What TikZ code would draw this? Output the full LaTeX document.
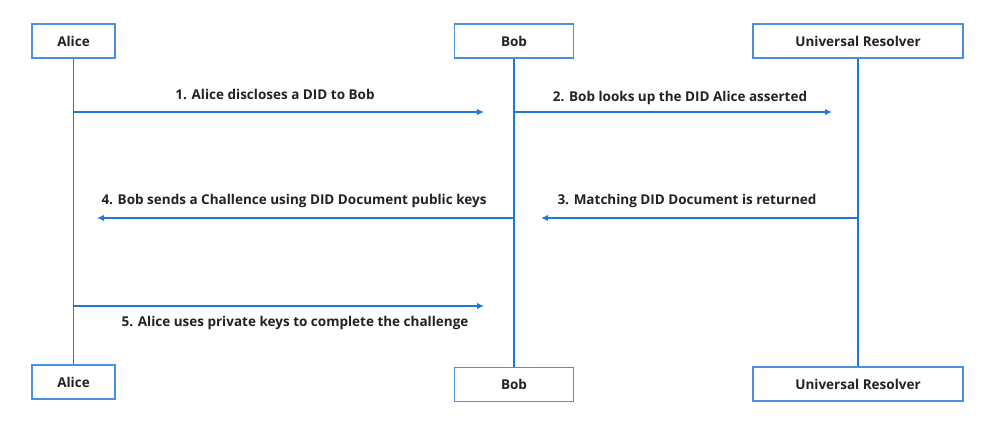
\documentclass[tikz,border=0pt]{standalone}
\usepackage{fontspec}
\setmainfont{Open Sans}
\usetikzlibrary{arrows.meta}
\definecolor{lineblue}{HTML}{1E78D7}
\definecolor{boxblue}{HTML}{4A90E2}
\definecolor{txt}{HTML}{222222}
\begin{document}
\begin{tikzpicture}[x=1pt,y=-1pt,
  actor/.style={draw=boxblue,line width=1.8pt,fill=white,inner sep=0pt,text=txt,font=\fontsize{13.5}{16}\selectfont\bfseries},
  life/.style={draw=lineblue,line width=1.8pt},
  msg/.style={draw=lineblue,line width=1.8pt,-{Latex[length=7pt,width=6.5pt]}},
  lbl/.style={text=txt,font=\fontsize{13.5}{16}\selectfont\bfseries,inner sep=0pt}]
\useasboundingbox (0,0) rectangle (1004,426);
% top boxes
\node[actor,minimum width=83pt,minimum height=34pt] (aT) at (73.5,41) {Alice};
\node[actor,minimum width=119pt,minimum height=34pt] (bT) at (514,41) {Bob};
\node[actor,minimum width=210pt,minimum height=34pt] (uT) at (858,41) {Universal Resolver};
% bottom boxes
\node[actor,minimum width=83pt,minimum height=34pt] (aB) at (73.5,382) {Alice};
\node[actor,minimum width=119pt,minimum height=34pt] (bB) at (514,384.5) {Bob};
\node[actor,minimum width=210pt,minimum height=34pt] (uB) at (858,384) {Universal Resolver};
% lifelines
\draw[life] (aT.south) -- (aB.north);
\draw[life] (bT.south) -- (bB.north);
\draw[life] (uT.south) -- (uB.north);
% message end points
\coordinate (m1s) at (aT.south |- 0,112);
\coordinate (m1e) at (484,112);
\coordinate (m2s) at (bT.south |- 0,112);
\coordinate (m2e) at (832,112);
\coordinate (m3s) at (uT.south |- 0,218);
\coordinate (m3e) at (541,218);
\coordinate (m4s) at (bT.south |- 0,218);
\coordinate (m4e) at (97,218);
\coordinate (m5s) at (aT.south |- 0,306);
\coordinate (m5e) at (484,306);
\draw[msg] (m1s) -- (m1e);
\draw[msg] (m2s) -- (m2e);
\draw[msg] (m3s) -- (m3e);
\draw[msg] (m4s) -- (m4e);
\draw[msg] (m5s) -- (m5e);
% labels
\node[lbl] (l1) at (275,94) {1. Alice discloses a DID to Bob};
\node[lbl] (l2) at (680,98) {2. Bob looks up the DID Alice asserted};
\node[lbl] (l3) at (687,201) {3. Matching DID Document is returned};
\node[lbl] (l4) at (294,201) {4. Bob sends a Challence using DID Document public keys};
\node[lbl] (l5) at (295,323) {5. Alice uses private keys to complete the challenge};
\end{tikzpicture}
\end{document}
